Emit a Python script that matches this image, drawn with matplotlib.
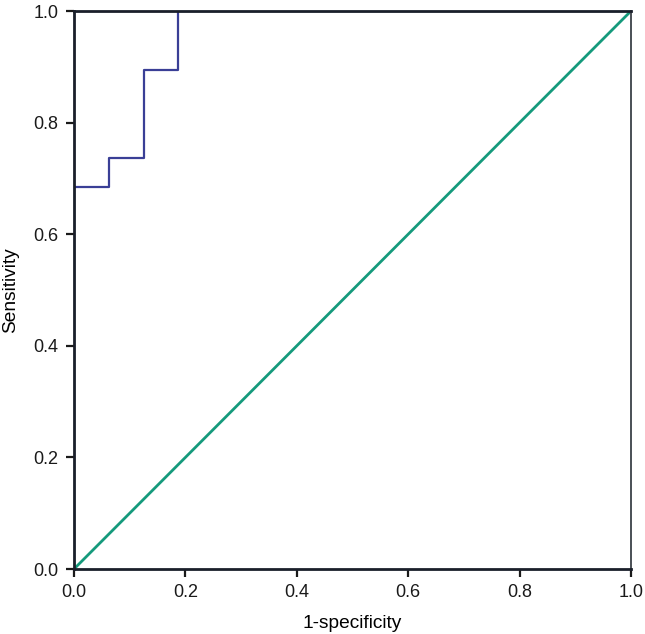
import matplotlib
matplotlib.use("Agg")
import matplotlib.pyplot as plt

# ROC step curve (16 negatives, 19 positives)
fpr = [0.0, 0.0, 0.0625, 0.0625, 0.125, 0.125, 0.1875, 0.1875, 1.0]
tpr = [0.0, 0.684, 0.684, 0.737, 0.737, 0.895, 0.895, 1.0, 1.0]
ref_line = [0.0, 1.0]
ticks = [0.0, 0.2, 0.4, 0.6, 0.8, 1.0]

plt.rcParams['font.family'] = ['Liberation Sans', 'DejaVu Sans']

fig = plt.figure(figsize=(6.45, 6.34), dpi=100)
ax = fig.add_axes([74 / 645, 1 - 569 / 634, 557 / 645, 558 / 634])

ax.plot(ref_line, ref_line, color='#159a7c', lw=2.0, zorder=2)
ax.plot(fpr, tpr, color='#3a3f96', lw=1.6, zorder=2.2)

ax.set_xlim(0, 1)
ax.set_ylim(0, 1)
ax.set_xticks(ticks)
ax.set_yticks(ticks)
ax.set_xticklabels([f'{t:.1f}' for t in ticks])
ax.set_yticklabels([f'{t:.1f}' for t in ticks])
ax.tick_params(direction='out', length=6, width=1.6, labelsize=13, colors='#1a1a1a', pad=5)

for side in ['left', 'bottom', 'top']:
    ax.spines[side].set_linewidth(2.0)
    ax.spines[side].set_color('#1a1f2a')
ax.spines['right'].set_linewidth(1.4)
ax.spines['right'].set_color('#4a4f55')

ax.set_xlabel('1-specificity', fontsize=13.8)
ax.set_ylabel('Sensitivity', fontsize=13.8)
ax.xaxis.set_label_coords(0.5, -0.082)
ax.yaxis.set_label_coords(-0.099, 0.5)

fig.savefig('out.png', dpi=100)
